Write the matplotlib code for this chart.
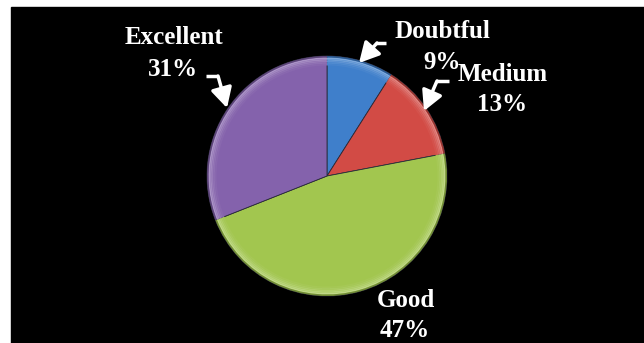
import matplotlib.pyplot as plt
from matplotlib.patches import Rectangle
from matplotlib.colors import to_rgb

categories = ['Doubtful', 'Medium', 'Good', 'Excellent']
shares = [9, 13, 47, 31]
colors = ['#3f7fcb', '#d24b45', '#a2c64f', '#8462ac']

W, H = 644, 343
fig = plt.figure(figsize=(W / 100, H / 100), dpi=100)
fig.patch.set_facecolor('white')
ax = fig.add_axes([0, 0, 1, 1])

cx, cy, r = 327, H - 176, 120

ax.pie(shares, colors=colors, startangle=90, counterclock=False,
       center=(cx, cy), radius=r,
       wedgeprops=dict(edgecolor='#2a2a3a', linewidth=0.6))


def shade(c, f):
    c = to_rgb(c)
    if f > 0:
        return tuple(v + (1 - v) * f for v in c)
    return tuple(v * (1 + f) for v in c)


# bevel: light rim just inside the arc, darker outer edge
for k, f in enumerate([0.32, 0.24, 0.16, 0.09, 0.04]):
    ax.pie(shares, colors=[shade(c, f) for c in colors], startangle=90,
           counterclock=False, center=(cx, cy), radius=r - 1.5 - k * 1.6,
           wedgeprops=dict(width=1.6, linewidth=0))
ax.pie(shares, colors=[shade(c, -0.3) for c in colors], startangle=90,
       counterclock=False, center=(cx, cy), radius=r,
       wedgeprops=dict(width=1.5, linewidth=0))

# black panel behind the chart
ax.add_patch(Rectangle((11, 0), W - 11, H - 7, color='black', zorder=-5))

ax.set_xlim(0, W)
ax.set_ylim(0, H)
ax.set_aspect('equal')
ax.axis('off')

font = dict(family='Liberation Serif', fontweight='bold', fontsize=18,
            color='white', ha='center', va='baseline')

# label text: (name x, name baseline, pct x, pct baseline) in pixels from top
label_pos = {
    'Doubtful': (442, 38, 442, 69),
    'Medium': (503, 81, 502, 111),
    'Good': (406, 307, 405, 337),
    'Excellent': (174, 44, 173, 76),
}
for name, val in zip(categories, shares):
    x1, y1, x2, y2 = label_pos[name]
    ax.text(x1, H - y1, name, **font)
    ax.text(x2, H - y2, f'{val}%', **font)

# leader arrows: start, elbow, tip
arrows = [
    ((206, 76), (218, 76), (227, 108)),
    ((386, 43), (377, 43), (359, 63)),
    ((449, 81), (437, 81), (424, 111)),
]
for p0, p1, p2 in arrows:
    ax.plot([p0[0], p1[0] - 1], [H - p0[1], H - p1[1]], color='white', lw=2.5,
            solid_capstyle='butt')
    ax.annotate('', xy=(p2[0], H - p2[1]), xytext=(p1[0], H - p1[1]),
                arrowprops=dict(arrowstyle='-|>,head_length=0.6,head_width=0.32',
                                color='white', lw=2.5, mutation_scale=20,
                                shrinkA=0, shrinkB=0))

fig.savefig('out.png', dpi=100, facecolor=fig.get_facecolor())
